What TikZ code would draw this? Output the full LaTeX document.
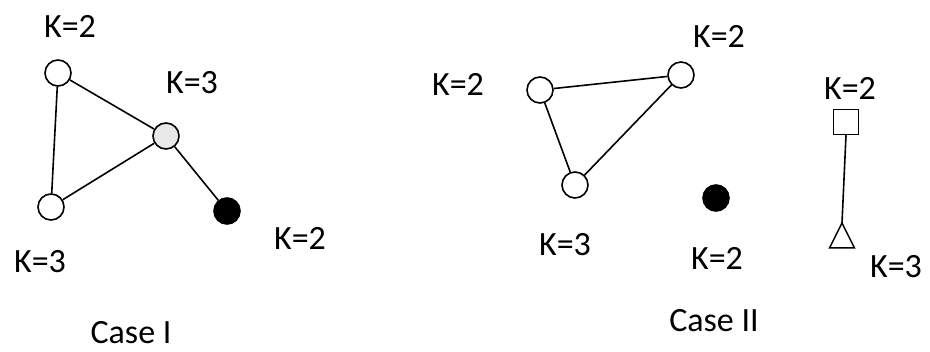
\documentclass[tikz,border=0pt]{standalone}
\usepackage{fontspec}
\setmainfont{Carlito}
\usetikzlibrary{shapes.geometric}
\begin{document}
\begin{tikzpicture}[x=1pt,y=-1pt,
  vtx/.style={circle,draw,line width=1.6pt,minimum size=26pt,inner sep=0pt,fill=white},
  blk/.style={vtx,fill=black},
  gry/.style={vtx,fill=gray!18},
  sqr/.style={rectangle,draw,line width=1.5pt,minimum size=25pt,inner sep=0pt},
  tri/.style={isosceles triangle,shape border rotate=90,isosceles triangle stretches,draw,line width=1.5pt,minimum width=25pt,minimum height=25pt,inner sep=0pt,outer sep=0pt},
  lbl/.style={font=\fontsize{34}{40}\selectfont,inner sep=0pt},
  edge/.style={line width=1.6pt}]
\useasboundingbox (0,0) rectangle (930,352);
% Case I
\node[vtx] (a) at (58,73) {};
\node[gry] (b) at (166,136) {};
\node[vtx] (c) at (51,207) {};
\node[blk] (d) at (227,211) {};
\draw[edge] (a) -- (b);
\draw[edge] (a) -- (c);
\draw[edge] (c) -- (b);
\draw[edge] (b) -- (d);
\node[lbl] (la) at (70,26) {K=2};
\node[lbl] (lb) at (192,83) {K=3};
\node[lbl] (lc) at (40,262) {K=3};
\node[lbl] (ld) at (300,238) {K=2};
\node[lbl] (case1) at (131,333) {Case I};
% Case II
\node[vtx] (e) at (540,90) {};
\node[vtx] (f) at (681,75) {};
\node[vtx] (g) at (575,185) {};
\node[blk] (h) at (716,198) {};
\draw[edge] (e) -- (f);
\draw[edge] (e) -- (g);
\draw[edge] (g) -- (f);
\node[sqr] (s) at (846,122) {};
\node[tri,anchor=apex] (t) at (842,223) {};
\draw[edge] (s.south) -- (t.apex);
\node[lbl] (le) at (458,84) {K=2};
\node[lbl] (lf) at (719,36) {K=2};
\node[lbl] (lg) at (565,245) {K=3};
\node[lbl] (lh) at (717,258) {K=2};
\node[lbl] (ls) at (850,88) {K=2};
\node[lbl] (lt) at (896,267) {K=3};
\node[lbl] (case2) at (714,321) {Case II};
\end{tikzpicture}
\end{document}
